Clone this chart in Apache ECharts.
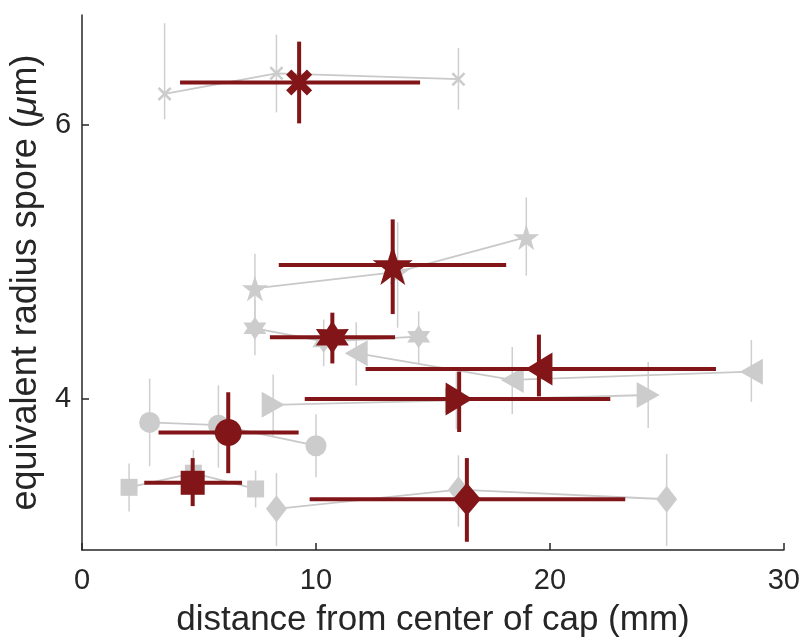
<!DOCTYPE html>
<html>
<head>
<meta charset="utf-8">
<title>spore radius vs distance</title>
<script src="https://cdn.jsdelivr.net/npm/echarts@6/dist/echarts.min.js"></script>
<style>
  html, body { margin: 0; padding: 0; background: #fff; }
  #main { width: 803px; height: 643px; }
</style>
</head>
<body>
<div id="main"></div>
<script>
// marker kinds, one per group
var groups = ['cross', 'pentagram', 'hexagram', 'triLeft', 'triRight', 'circle', 'square', 'diamond'];

// grey points (3 per group)
var greyX = [
  [3.53, 8.31, 16.09],
  [7.39, 13.49, 18.99],
  [7.39, 10.33, 14.39],
  [11.72, 18.39, 28.61],
  [8.17, 16.0, 24.2],
  [2.89, 5.83, 10.0],
  [2.01, 4.76, 7.42],
  [8.31, 16.09, 24.99]
];
var greyY = [
  [6.225, 6.375, 6.332],
  [4.807, 4.928, 5.18],
  [4.516, 4.42, 4.455],
  [4.335, 4.14, 4.20],
  [3.958, 3.99, 4.03],
  [3.83, 3.81, 3.66],
  [3.357, 3.46, 3.345],
  [3.2, 3.34, 3.27]
];
var greyYLow = [
  [6.04, 6.09, 6.11],
  [4.55, 4.52, 4.90],
  [4.32, 4.24, 4.26],
  [4.10, 3.89, 3.98],
  [3.73, 3.78, 3.79],
  [3.51, 3.50, 3.43],
  [3.18, 3.30, 3.21],
  [2.93, 3.07, 2.93]
];
var greyYHigh = [
  [6.74, 6.657, 6.56],
  [5.06, 5.29, 5.47],
  [4.72, 4.58, 4.64],
  [4.56, 4.38, 4.43],
  [4.18, 4.20, 4.27],
  [4.15, 4.10, 3.89],
  [3.53, 3.63, 3.48],
  [3.46, 3.59, 3.60]
];

// group means with error bars
var meanX = [9.28, 13.28, 10.70, 19.53, 16.12, 6.25, 4.73, 16.45];
var meanY = [6.308, 4.977, 4.45, 4.22, 4.0, 3.757, 3.39, 3.27];
var meanXLow = [4.19, 8.41, 8.03, 12.12, 9.52, 3.27, 2.66, 9.73];
var meanXHigh = [14.45, 18.13, 13.38, 27.1, 22.58, 9.26, 6.84, 23.22];
var meanYLow = [6.01, 4.62, 4.26, 4.02, 3.76, 3.46, 3.22, 2.96];
var meanYHigh = [6.606, 5.31, 4.63, 4.47, 4.2, 4.05, 3.57, 3.57];

var xTicks = [0, 10, 20, 30];
var yTicks = [4, 6];

var RED = '#811518';
var GREY = '#cccccc';
var FONT = 'Liberation Sans, Arial, sans-serif';

function starPath(n, inner) {
  var pts = [];
  for (var i = 0; i < n * 2; i++) {
    var r = i % 2 === 0 ? 1 : inner;
    var a = -Math.PI / 2 + i * Math.PI / n;
    pts.push((r * Math.cos(a) * 50 + 50).toFixed(2) + ',' + (r * Math.sin(a) * 50 + 50).toFixed(2));
  }
  return 'path://M' + pts.join(' L') + ' Z';
}
function crossPath(t) {
  var a = t, b = 10 - t, c = 10 + t, d = 20 - t;
  return 'path://M0,' + a + ' L' + a + ',0 L10,' + b + ' L' + d + ',0 L20,' + a +
    ' L' + c + ',10 L20,' + d + ' L' + d + ',20 L10,' + c + ' L' + a + ',20 L0,' + d + ' L' + b + ',10 Z';
}

// symbol look per group: [greySymbol, rotate, greySize, meanSize, meanSymbol]
var symbolInfo = {
  cross:     [crossPath(2.6), 0, 14, 26, crossPath(4)],
  pentagram: [starPath(5, 0.382), 0, 26, 40],
  hexagram:  [starPath(6, 0.577), 0, 23, 33],
  triLeft:   ['triangle', 90, [26, 23], [33, 27]],
  triRight:  ['triangle', -90, [26, 23], [33, 27]],
  circle:    ['circle', 0, 21, 27],
  square:    ['rect', 0, 17, 24],
  diamond:   ['diamond', 0, [21, 27], [28, 33]]
};

function errRender(color, width) {
  return function (params, api) {
    var x = api.value(0), y = api.value(1);
    var kids = [];
    var p1 = api.coord([x, api.value(4)]);
    var p2 = api.coord([x, api.value(5)]);
    kids.push({ type: 'line', shape: { x1: p1[0], y1: p1[1], x2: p2[0], y2: p2[1] },
      style: { stroke: color, lineWidth: width } });
    if (api.value(2) !== api.value(3)) {
      var q1 = api.coord([api.value(2), y]);
      var q2 = api.coord([api.value(3), y]);
      kids.push({ type: 'line', shape: { x1: q1[0], y1: q1[1], x2: q2[0], y2: q2[1] },
        style: { stroke: color, lineWidth: width } });
    }
    return { type: 'group', children: kids };
  };
}

var series = [];
var greyBars = [];
for (var g = 0; g < groups.length; g++) {
  var info = symbolInfo[groups[g]];
  var pts = [];
  for (var k = 0; k < greyX[g].length; k++) {
    pts.push([greyX[g][k], greyY[g][k]]);
    greyBars.push([greyX[g][k], greyY[g][k], greyX[g][k], greyX[g][k], greyYLow[g][k], greyYHigh[g][k]]);
  }
  series.push({
    type: 'line',
    data: pts,
    symbol: info[0],
    symbolRotate: info[1],
    symbolSize: info[2],
    showSymbol: true,
    z: 3,
    lineStyle: { color: '#c9c9c9', width: 1.8 },
    itemStyle: { color: GREY, opacity: 1 },
    animation: false
  });
}
series.push({
  type: 'custom',
  renderItem: errRender('#cfcfcf', 1.5),
  data: greyBars,
  z: 2,
  animation: false
});

var meanBars = [];
for (var m = 0; m < groups.length; m++) {
  meanBars.push([meanX[m], meanY[m], meanXLow[m], meanXHigh[m], meanYLow[m], meanYHigh[m]]);
}
series.push({
  type: 'custom',
  renderItem: errRender(RED, 4),
  data: meanBars,
  z: 4,
  animation: false
});
for (var n = 0; n < groups.length; n++) {
  var si = symbolInfo[groups[n]];
  series.push({
    type: 'scatter',
    data: [[meanX[n], meanY[n]]],
    symbol: si[4] || si[0],
    symbolRotate: si[1],
    symbolSize: si[3],
    itemStyle: { color: RED, opacity: 1 },
    z: 5,
    animation: false
  });
}

var chart = echarts.init(document.getElementById('main'));
chart.setOption({
  backgroundColor: '#fff',
  animation: false,
  grid: { left: 81.5, right: 17, top: 15, bottom: 92, containLabel: false },
  xAxis: {
    type: 'value',
    min: 0, max: 30, interval: 10,
    name: 'distance from center of cap (mm)',
    nameLocation: 'middle',
    nameGap: 53,
    nameTextStyle: { fontSize: 35, color: '#262626', fontFamily: FONT },
    axisLine: { lineStyle: { color: '#262626', width: 1.5 } },
    axisTick: { inside: true, length: 7, lineStyle: { color: '#262626', width: 1.5 },
      customValues: xTicks },
    axisLabel: { fontSize: 29, color: '#262626', fontFamily: FONT, margin: 16,
      customValues: xTicks },
    splitLine: { show: false }
  },
  yAxis: {
    type: 'value',
    min: 2.9, max: 6.8,
    name: 'equivalent radius spore ({i|μ}m)',
    nameLocation: 'middle',
    nameGap: 34,
    nameTextStyle: { fontSize: 36, color: '#262626', fontFamily: FONT,
      rich: { i: { fontSize: 36, fontStyle: 'italic', color: '#262626', fontFamily: FONT } } },
    axisLine: { show: true, lineStyle: { color: '#262626', width: 1.5 } },
    axisTick: { show: true, inside: true, length: 7, lineStyle: { color: '#262626', width: 1.5 },
      customValues: yTicks },
    axisLabel: { fontSize: 29, color: '#262626', fontFamily: FONT, margin: 11,
      customValues: yTicks },
    splitLine: { show: false }
  },
  series: series
});
</script>
</body>
</html>
